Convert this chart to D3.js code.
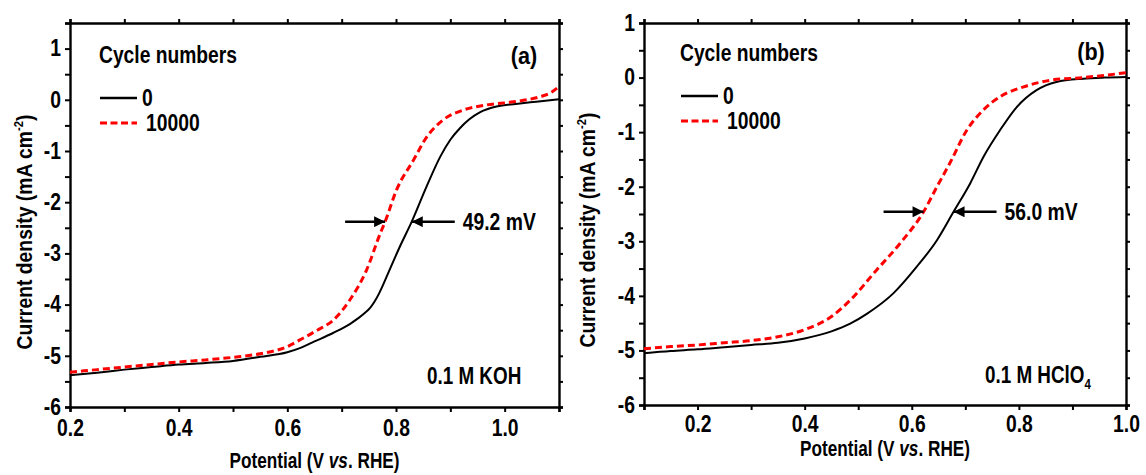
<!DOCTYPE html>
<html>
<head>
<meta charset="utf-8">
<script src="https://cdn.jsdelivr.net/npm/d3@7"></script>
<style>
    body { margin: 0; background: white; }
    svg text { font-family: "Liberation Sans", Arial, sans-serif; font-weight: bold; fill: black; }
</style>
</head>
<body>
<div id="chart"></div>
<script>
//Values (potential in V vs. RHE, current density in mA cm-2)
const kohPotential0 = [0.2, 0.25, 0.3, 0.35, 0.4, 0.45, 0.5, 0.55, 0.6, 0.623, 0.65, 0.685, 0.715, 0.73, 0.742, 0.752, 0.76,
    0.768, 0.776, 0.783, 0.807, 0.829, 0.856, 0.882, 0.9, 0.918, 0.935, 0.955, 0.985, 1.02, 1.047, 1.075, 1.1];
const kohCurrent0 = [-5.38, -5.33, -5.27, -5.22, -5.17, -5.14, -5.1, -5.02, -4.93, -4.85, -4.72, -4.55, -4.38, -4.27, -4.17, -4.07, -3.95,
    -3.8, -3.62, -3.45, -2.87, -2.38, -1.7, -1.1, -0.78, -0.55, -0.38, -0.24, -0.13, -0.08, -0.05, -0.02, 0.01];
const kohPotential10000 = [0.2, 0.25, 0.3, 0.35, 0.4, 0.45, 0.5, 0.55, 0.6, 0.623, 0.655, 0.685, 0.715, 0.746, 0.771, 0.78,
    0.801, 0.832, 0.857, 0.887, 0.924, 0.967, 1.016, 1.065, 1.085, 1.1];
const kohCurrent10000 = [-5.32, -5.27, -5.22, -5.17, -5.12, -5.08, -5.03, -4.96, -4.82, -4.69, -4.5, -4.3, -3.91, -3.32, -2.61, -2.38,
    -1.76, -1.18, -0.72, -0.39, -0.2, -0.1, -0.04, 0.06, 0.14, 0.26];

const hclo4Potential0 = [0.1, 0.15, 0.2, 0.25, 0.3, 0.35, 0.4, 0.45, 0.485, 0.516, 0.566, 0.609, 0.647, 0.678, 0.709, 0.734,
    0.765, 0.796, 0.833, 0.87, 0.92, 0.96, 1.0];
const hclo4Current0 = [-5.05, -5.01, -4.98, -4.94, -4.9, -4.86, -4.78, -4.65, -4.51, -4.33, -3.95, -3.47, -2.98, -2.46, -1.94, -1.45,
    -0.96, -0.54, -0.23, -0.08, -0.02, 0.0, 0.01];
const hclo4Potential10000 = [0.1, 0.15, 0.2, 0.25, 0.3, 0.35, 0.4, 0.45, 0.485, 0.534, 0.578, 0.622, 0.647, 0.671, 0.703, 0.734,
    0.765, 0.809, 0.858, 0.92, 0.96, 1.0];
const hclo4Current10000 = [-4.97, -4.93, -4.9, -4.86, -4.82, -4.75, -4.62, -4.38, -4.08, -3.53, -3.04, -2.46, -2.0, -1.57, -0.96, -0.59,
    -0.35, -0.17, -0.05, 0.0, 0.04, 0.09];

//Half-wave shift markers: [current, potential after 10000 cycles, potential at 0 cycles]
const kohShift = [-2.38, 0.78, 0.829];
const hclo4Shift = [-2.46, 0.622, 0.678];

const legendTitle = "Cycle numbers";
const legendLabels = ["0", "10000"];
const xTicksKoh = [0.2, 0.4, 0.6, 0.8, 1.0];
const xTicksHclo4 = [0.2, 0.4, 0.6, 0.8, 1.0];
const yTicksKoh = [-6, -5, -4, -3, -2, -1, 0, 1];
const yTicksHclo4 = [-6, -5, -4, -3, -2, -1, 0, 1];

const svg = d3.select("#chart").append("svg")
    .attr("width", 1146)
    .attr("height", 475);

svg.append("defs").append("marker")
    .attr("id", "arrowHead")
    .attr("viewBox", "0 0 10 10")
    .attr("refX", 10)
    .attr("refY", 5)
    .attr("markerWidth", 15)
    .attr("markerHeight", 11)
    .attr("markerUnits", "userSpaceOnUse")
    .attr("orient", "auto")
    .append("path")
    .attr("d", "M0,0 L10,5 L0,10 Z")
    .attr("fill", "black");

//hyphen instead of the unicode minus d3 uses
const yFormat = d => String(d);

//The original uses a condensed bold face; squeeze Liberation Sans horizontally to get the same look.
function narrow(sel, factor) {
    sel.each(function () {
        const w = this.getComputedTextLength();
        d3.select(this)
            .attr("textLength", w * factor)
            .attr("lengthAdjust", "spacingAndGlyphs");
    });
    return sel;
}

function drawPanel(p) {
    const x = d3.scaleLinear().domain(p.xDomain).range(p.xRange);
    const y = d3.scaleLinear().domain(p.yDomain).range(p.yRange);
    const g = svg.append("g");

    //axes on all four sides, ticks pointing outwards; labels only on bottom and left
    const xMinor = d3.range(p.xDomain[0], p.xDomain[1] + 0.001, 0.1);
    const yMinor = d3.range(p.yDomain[0], p.yDomain[1] + 0.001, 0.5);

    g.append("g").attr("transform", `translate(0, ${p.yRange[0]})`)
        .call(d3.axisBottom(x).tickValues(xMinor).tickSize(5).tickFormat(""));
    const bottomLabels = g.append("g").attr("transform", `translate(0, ${p.yRange[0]})`)
        .call(d3.axisBottom(x).tickValues(p.xTicks).tickSize(0).tickPadding(p.xPad).tickFormat(d3.format(".1f")));
    g.append("g").attr("transform", `translate(0, ${p.yRange[1]})`)
        .call(d3.axisTop(x).tickValues(xMinor).tickSize(4).tickFormat(""));
    g.append("g").attr("transform", `translate(${p.xRange[0]}, 0)`)
        .call(d3.axisLeft(y).tickValues(yMinor).tickSize(5).tickFormat(""));
    const leftLabels = g.append("g").attr("transform", `translate(${p.xRange[0]}, 0)`)
        .call(d3.axisLeft(y).tickValues(p.yTicks).tickSize(0).tickPadding(9).tickFormat(yFormat));
    g.append("g").attr("transform", `translate(${p.xRange[1]}, 0)`)
        .call(d3.axisRight(y).tickValues(yMinor).tickSize(4).tickFormat(""));

    g.selectAll(".domain").attr("stroke", "black").attr("stroke-width", 2.4);
    g.selectAll(".tick line").attr("stroke", "black").attr("stroke-width", 2);
    bottomLabels.selectAll(".domain").remove();
    leftLabels.selectAll(".domain").remove();
    const tickTexts = g.selectAll(".tick text")
        .style("font-family", "'Liberation Sans', Arial, sans-serif")
        .style("font-weight", "bold")
        .style("font-size", "23px")
        .attr("fill", "black");
    narrow(tickTexts, 0.84);

    //axis titles, squeezed with a scale so the italic part stays in line
    const xt = g.append("text")
        .attr("transform", `translate(${(p.xRange[0] + p.xRange[1]) / 2}, ${p.xTitleY}) scale(0.8, 1)`)
        .attr("text-anchor", "middle")
        .style("font-size", "21.5px");
    xt.append("tspan").text("Potential (V ");
    xt.append("tspan").style("font-style", "italic").text("vs");
    xt.append("tspan").text(". RHE)");

    const yt = g.append("text")
        .attr("transform", `translate(${p.yTitleX}, ${p.yTitleY}) rotate(-90) scale(0.86, 1)`)
        .attr("text-anchor", "middle")
        .style("font-size", "22.5px");
    yt.append("tspan").text("Current density (mA cm");
    yt.append("tspan").attr("dy", -9).style("font-size", "13px").text("-2");
    yt.append("tspan").attr("dy", 9).text(")");

    //curves
    const line = d3.line()
        .x(d => x(d[0]))
        .y(d => y(d[1]))
        .curve(d3.curveMonotoneX);

    g.append("path")
        .datum(d3.zip(p.pot0, p.cur0))
        .attr("fill", "none")
        .attr("stroke", "black")
        .attr("stroke-width", 2)
        .attr("d", line);
    g.append("path")
        .datum(d3.zip(p.pot10000, p.cur10000))
        .attr("fill", "none")
        .attr("stroke", "#ff0000")
        .attr("stroke-width", 3)
        .attr("stroke-dasharray", "7,4")
        .attr("d", line);

    //legend
    g.append("text")
        .attr("x", p.legendX)
        .attr("y", p.legendY)
        .style("font-size", "23px")
        .text(legendTitle)
        .attr("textLength", 138)
        .attr("lengthAdjust", "spacingAndGlyphs");
    legendLabels.forEach((label, i) => {
        const ly = p.legendY + 35 + i * 25;
        g.append("line")
            .attr("x1", p.legendX + 1).attr("x2", p.legendX + 38)
            .attr("y1", ly).attr("y2", ly)
            .attr("stroke", i === 0 ? "black" : "#ff0000")
            .attr("stroke-width", i === 0 ? 2.5 : 3)
            .attr("stroke-dasharray", i === 0 ? null : "7,3.5");
        narrow(g.append("text")
            .attr("x", p.legendX + (i === 0 ? 43 : 47))
            .attr("y", ly + 8)
            .style("font-size", "23px")
            .text(label), 0.84);
    });

    //panel letter and electrolyte
    narrow(g.append("text")
        .attr("x", p.letterX)
        .attr("y", p.letterY)
        .attr("text-anchor", "middle")
        .style("font-size", "24px")
        .text(p.letter), 0.9);

    const el = g.append("text")
        .attr("transform", `translate(${p.elX}, ${p.elY}) scale(0.82, 1)`)
        .style("font-size", "23px")
        .text(p.electrolyte);
    if (p.subscript) {
        el.append("tspan").attr("dy", 6).style("font-size", "14px").text(p.subscript);
    }

    //half-wave shift arrows
    const ay = y(p.shift[0]);
    g.append("line")
        .attr("x1", x(p.shift[1]) - 40).attr("x2", x(p.shift[1]))
        .attr("y1", ay).attr("y2", ay)
        .attr("stroke", "black").attr("stroke-width", 2.5)
        .attr("marker-end", "url(#arrowHead)");
    g.append("line")
        .attr("x1", x(p.shift[2]) + 43).attr("x2", x(p.shift[2]))
        .attr("y1", ay).attr("y2", ay)
        .attr("stroke", "black").attr("stroke-width", 2.5)
        .attr("marker-end", "url(#arrowHead)");
    narrow(g.append("text")
        .attr("x", x(p.shift[2]) + 51)
        .attr("y", ay + 8)
        .style("font-size", "23px")
        .text(p.shiftLabel), 0.84);
}

drawPanel({
    xDomain: [0.2, 1.1], xRange: [70, 559],
    yDomain: [-6, 1.5], yRange: [407, 23],
    xTicks: xTicksKoh, yTicks: yTicksKoh,
    pot0: kohPotential0, cur0: kohCurrent0,
    pot10000: kohPotential10000, cur10000: kohCurrent10000,
    xPad: 13,
    xTitleY: 468, yTitleX: 32, yTitleY: 232,
    legendX: 99, legendY: 63,
    letter: "(a)", letterX: 524, letterY: 64,
    electrolyte: "0.1 M KOH", elX: 427, elY: 384,
    shift: kohShift, shiftLabel: "49.2 mV"
});

drawPanel({
    xDomain: [0.1, 1.0], xRange: [644, 1126],
    yDomain: [-6, 1], yRange: [405, 23],
    xTicks: xTicksHclo4, yTicks: yTicksHclo4,
    pot0: hclo4Potential0, cur0: hclo4Current0,
    pot10000: hclo4Potential10000, cur10000: hclo4Current10000,
    xPad: 11,
    xTitleY: 456, yTitleX: 595, yTitleY: 230,
    legendX: 680, legendY: 61,
    letter: "(b)", letterX: 1091, letterY: 60,
    electrolyte: "0.1 M HClO", subscript: "4", elX: 985, elY: 383,
    shift: hclo4Shift, shiftLabel: "56.0 mV"
});
</script>
</body>
</html>
